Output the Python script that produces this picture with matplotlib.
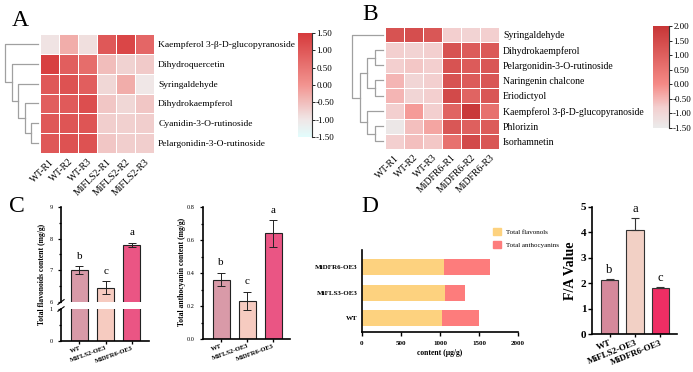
import numpy as np
import matplotlib
matplotlib.use("Agg")
import matplotlib.pyplot as plt
from matplotlib.colors import LinearSegmentedColormap
from matplotlib.patches import Patch

plt.rcParams["font.family"] = ["Liberation Serif", "DejaVu Serif"]

W, H = 693, 372

# ---- data ----
a_rows = ["Kaempferol 3-β-D-glucopyranoside", "Dihydroquercetin", "Syringaldehyde",
          "Dihydrokaempferol", "Cyanidin-3-O-rutinoside", "Pelargonidin-3-O-rutinoside"]
a_cols = ["WT-R1", "WT-R2", "WT-R3", "MiFLS2-R1", "MiFLS2-R2", "MiFLS2-R3"]
a_vals = [[-0.95, -0.3, -0.9, 1.0, 1.3, 0.75],
          [1.4, 0.9, 0.65, -0.5, -0.75, -0.65],
          [1.0, 1.1, 0.9, -0.8, -0.3, -1.0],
          [0.9, 0.95, 1.15, -0.6, -0.8, -0.6],
          [1.0, 1.05, 1.05, -0.7, -0.72, -0.7],
          [1.0, 1.1, 1.1, -0.6, -0.7, -0.7]]
# merges: (node a, node b, distance)
a_merges = [(4, 5, 8), (3, 6, 14), (2, 7, 21), (1, 8, 28), (0, 9, 35)]

b_rows = ["Syringaldehyde", "Dihydrokaempferol", "Pelargonidin-3-O-rutinoside",
          "Naringenin chalcone", "Eriodictyol", "Kaempferol 3-β-D-glucopyranoside",
          "Phlorizin", "Isorhamnetin"]
b_cols = ["WT-R1", "WT-R2", "WT-R3", "MiDFR6-R1", "MiDFR6-R2", "MiDFR6-R3"]
b_vals = [[1.3, 1.4, 1.2, -0.8, -0.9, -0.8],
          [-0.8, -0.9, -0.8, 1.3, 1.1, 1.15],
          [-0.8, -0.7, -0.8, 1.3, 1.1, 1.2],
          [-0.5, -0.95, -0.8, 1.3, 1.1, 1.2],
          [-0.5, -0.95, -0.8, 1.5, 0.9, 1.2],
          [-0.8, -0.2, -0.8, 0.9, 1.9, 0.6],
          [-1.4, -0.6, -0.3, 1.2, 1.0, 1.1],
          [-0.8, -0.6, -0.7, 0.6, 1.5, 1.2]]
b_merges = [(1, 2, 9), (3, 4, 9), (8, 9, 17), (6, 7, 9), (5, 11, 17), (10, 12, 24), (0, 13, 33)]

c_groups = ["WT", "MiFLS2-OE3", "MiDFR6-OE3"]
flav_mean = [7.0, 6.45, 7.8]
flav_err = [0.13, 0.2, 0.07]
flav_letters = ["b", "c", "a"]
antho_mean = [0.36, 0.23, 0.64]
antho_err = [0.04, 0.055, 0.08]
antho_letters = ["b", "c", "a"]
c_colors = ["#d99aa8", "#f6cbc0", "#ea5584"]

d_groups = ["WT", "MiFLS3-OE3", "MiDFR6-OE3"]
d_flavonols = [1020, 1070, 1055]
d_antho = [480, 255, 590]

fa_groups = ["WT", "MiFLS2-OE3", "MiDFR6-OE3"]
fa_mean = [2.12, 4.1, 1.8]
fa_err = [0.06, 0.48, 0.07]
fa_letters = ["b", "a", "c"]
fa_colors = ["#d5899b", "#f2d0c5", "#ee2e64"]


def px(x0, y0, x1, y1):
    return [x0 / W, 1 - y1 / H, (x1 - x0) / W, (y1 - y0) / H]


def heatmap(ax, vals, rows, cols, cmap, vmin, vmax, rowsize=7):
    m = ax.pcolormesh(np.array(vals), cmap=cmap, vmin=vmin, vmax=vmax,
                      edgecolors="white", linewidth=0.6)
    ax.set_xlim(0, len(cols))
    ax.set_ylim(len(rows), 0)
    ax.set_xticks(np.arange(len(cols)) + 0.5)
    ax.set_xticklabels(cols, rotation=45, ha="right", va="top",
                       rotation_mode="anchor", fontsize=7)
    ax.set_yticks(np.arange(len(rows)) + 0.5)
    ax.yaxis.tick_right()
    ax.set_yticklabels(rows, fontsize=rowsize)
    ax.tick_params(length=0, pad=3)
    for s in ax.spines.values():
        s.set_visible(False)
    return m


def dendro(ax, merges, n):
    pos = {i: i + 0.5 for i in range(n)}
    hgt = {i: 0 for i in range(n)}
    for k, (a, b, d) in enumerate(merges):
        ax.plot([hgt[a], d, d, hgt[b]], [pos[a], pos[a], pos[b], pos[b]],
                color="#a0a0a0", lw=0.9, clip_on=False)
        pos[n + k] = (pos[a] + pos[b]) / 2
        hgt[n + k] = d
    ax.set_ylim(n, 0)
    ax.set_xlim(max(m[2] for m in merges), -1)
    ax.axis("off")


def colorbar(fig, m, cax, ticks):
    cb = fig.colorbar(m, cax=cax, ticks=ticks)
    cb.outline.set_visible(False)
    cax.set_yticklabels([f"{t:.2f}" for t in ticks])
    cax.tick_params(labelsize=6.5, length=2, width=0.6, pad=1)
    cax.plot([1, 1], [0, 1], transform=cax.transAxes, color="#333333", lw=0.8, clip_on=False)


def style_bar_ax(ax, lw=1.2):
    for s in ["top", "right"]:
        ax.spines[s].set_visible(False)
    for s in ["left", "bottom"]:
        ax.spines[s].set_linewidth(lw)
    ax.tick_params(width=lw * 0.8, length=2.5, direction="out")


fig = plt.figure(figsize=(W / 100, H / 100), dpi=100)

# ---- A ----
cmap_a = LinearSegmentedColormap.from_list(
    "a", [(0, "#e2fdfd"), (0.17, "#f0e6e6"), (0.5, "#f29490"), (1.0, "#d63a3c")])
ax = fig.add_axes(px(40, 34, 154, 153))
m = heatmap(ax, a_vals, a_rows, a_cols, cmap_a, -1.5, 1.5, rowsize=6.8)
dendro(fig.add_axes(px(5, 34, 39, 153)), a_merges, len(a_rows))
colorbar(fig, m, fig.add_axes(px(298, 33, 312, 137)), [-1.5, -1.0, -0.5, 0, 0.5, 1.0, 1.5])
fig.text(20 / W, 1 - 20 / H, "A", fontsize=17, ha="center", va="center")

# ---- B ----
cmap_b = LinearSegmentedColormap.from_list(
    "b", [(0, "#ebebeb"), (0.2, "#f3cfcf"), (0.43, "#f58a86"), (1.0, "#c73536")])
ax = fig.add_axes(px(385, 27, 499, 149))
m = heatmap(ax, b_vals, b_rows, b_cols, cmap_b, -1.5, 2.0)
dendro(fig.add_axes(px(352, 27, 384, 149)), b_merges, len(b_rows))
colorbar(fig, m, fig.add_axes(px(653, 26, 669, 128)), [-1.5, -1.0, -0.5, 0, 0.5, 1.0, 1.5, 2.0])
fig.text(370 / W, 1 - 15 / H, "B", fontsize=17, ha="center", va="center")

# ---- C: flavonoids (broken axis) ----
x = np.arange(3)
bw = 0.65
ax_up = fig.add_axes(px(61, 207, 149, 302))
ax_lo = fig.add_axes(px(61, 309, 149, 341))
for a in (ax_up, ax_lo):
    a.bar(x, flav_mean, width=bw, color=c_colors, edgecolor="#222222", linewidth=0.8)
    a.set_xlim(-0.7, 2.65)
    style_bar_ax(a)
ax_up.errorbar(x, flav_mean, yerr=flav_err, fmt="none", ecolor="#222222",
               elinewidth=0.7, capsize=3, capthick=0.7)
ax_up.set_ylim(6, 9)
ax_up.set_yticks([6, 7, 8, 9])
ax_up.set_yticks([6.5, 7.5, 8.5], minor=True)
ax_up.spines["bottom"].set_visible(False)
ax_up.tick_params(axis="x", bottom=False, labelbottom=False)
ax_up.tick_params(axis="y", which="both", labelsize=4.5, width=0.9, length=2.5)
ax_up.tick_params(axis="y", which="minor", length=1.5)
for i in x:
    ax_up.annotate(flav_letters[i], (i, flav_mean[i] + flav_err[i]), xytext=(0, 4),
                   textcoords="offset points", ha="center", va="bottom", fontsize=8)
ax_lo.set_ylim(0, 1)
ax_lo.set_yticks([0, 1])
ax_lo.set_yticks([0.5], minor=True)
ax_lo.spines["top"].set_visible(False)
ax_lo.tick_params(axis="y", which="both", labelsize=4.5, width=0.9, length=2.5)
ax_lo.tick_params(axis="y", which="minor", length=1.5)
ax_lo.set_xticks(x)
ax_lo.set_xticklabels(c_groups, rotation=20, ha="right", rotation_mode="anchor",
                      fontsize=4.8, fontweight="bold")
ax_lo.tick_params(axis="x", length=2, pad=1)
ax_up.plot([-0.035, 0.035], [-0.025, 0.025], transform=ax_up.transAxes,
           color="k", lw=0.8, clip_on=False)
ax_lo.plot([-0.035, 0.035], [0.93, 1.07], transform=ax_lo.transAxes,
           color="k", lw=0.8, clip_on=False)
fig.text(42 / W, 1 - 274 / H, "Total flavonoids content (mg/g)", rotation=90,
         fontsize=5.5, fontweight="bold", ha="center", va="center")
fig.text(17 / W, 1 - 207 / H, "C", fontsize=17, ha="center", va="center")

# ---- C: anthocyanins ----
ax = fig.add_axes(px(203, 207, 290, 339))
ax.bar(x, antho_mean, width=bw, color=c_colors, edgecolor="#222222", linewidth=0.8)
ax.errorbar(x, antho_mean, yerr=antho_err, fmt="none", ecolor="#222222",
            elinewidth=0.7, capsize=3, capthick=0.7)
ax.set_xlim(-0.7, 2.65)
ax.set_ylim(0, 0.8)
ax.set_yticks([0, 0.2, 0.4, 0.6, 0.8])
ax.set_yticks([0.1, 0.3, 0.5, 0.7], minor=True)
ax.set_yticklabels([f"{v:.1f}" for v in [0, 0.2, 0.4, 0.6, 0.8]])
style_bar_ax(ax)
ax.tick_params(axis="y", which="both", labelsize=4.5, width=0.9)
ax.tick_params(axis="y", which="minor", length=1.5)
ax.set_xticks(x)
ax.set_xticklabels(c_groups, rotation=20, ha="right", rotation_mode="anchor",
                   fontsize=4.8, fontweight="bold")
ax.tick_params(axis="x", length=2, pad=1)
for i in x:
    ax.annotate(antho_letters[i], (i, antho_mean[i] + antho_err[i]), xytext=(0, 4),
                textcoords="offset points", ha="center", va="bottom", fontsize=8)
fig.text(182 / W, 1 - 272 / H, "Total anthocyanin content (mg/g)", rotation=90,
         fontsize=5.5, fontweight="bold", ha="center", va="center")

# ---- D: stacked bars ----
ax = fig.add_axes(px(362, 250, 518, 332))
ax.barh(x, d_flavonols, height=0.63, color="#fdd27f", label="Total flavonols")
ax.barh(x, d_antho, left=d_flavonols, height=0.63, color="#fd7c7c", label="Total anthocyanins")
ax.set_xlim(0, 2000)
ax.set_ylim(-0.55, 2.69)
ax.set_xticks([0, 500, 1000, 1500, 2000])
ax.set_yticks(x)
ax.set_yticklabels(d_groups, fontsize=5, fontweight="bold")
style_bar_ax(ax)
ax.tick_params(axis="x", labelsize=5, width=1, length=3)
for lab in ax.get_xticklabels():
    lab.set_fontweight("bold")
ax.tick_params(axis="y", length=0, pad=3)
ax.set_xlabel("content (μg/g)", fontsize=5.5, fontweight="bold", labelpad=2)
fig.legend(handles=[Patch(color="#fdd27f"), Patch(color="#fd7c7c")],
           labels=["Total flavonols", "Total anthocyanins"],
           loc="upper left", bbox_to_anchor=(490 / W, 1 - 225 / H), frameon=False,
           fontsize=5, handlelength=1.1, handleheight=1.1, labelspacing=0.9,
           handletextpad=0.7, borderpad=0)
fig.text(370 / W, 1 - 207 / H, "D", fontsize=17, ha="center", va="center")

# ---- F/A value ----
ax = fig.add_axes(px(592, 207, 677, 334))
ax.bar(x, fa_mean, width=0.67, color=fa_colors, edgecolor="#333333", linewidth=0.8)
ax.errorbar(x, fa_mean, yerr=[[0, 0, 0], fa_err], fmt="none", ecolor="#333333",
            elinewidth=0.8, capsize=3, capthick=0.8)
ax.set_xlim(-0.69, 2.65)
ax.set_ylim(0, 5)
ax.set_yticks([0, 1, 2, 3, 4, 5])
style_bar_ax(ax)
ax.tick_params(axis="y", labelsize=8, width=1, length=3, pad=1)
for lab in ax.get_yticklabels():
    lab.set_fontweight("bold")
ax.set_xticks(x)
ax.set_xticklabels(fa_groups, rotation=22, ha="right", rotation_mode="anchor",
                   fontsize=6.5, fontweight="bold")
ax.tick_params(axis="x", length=2.5, pad=1)
ax.set_ylabel("F/A Value", fontsize=10, fontweight="bold", labelpad=3)
for i in x:
    ax.annotate(fa_letters[i], (i, fa_mean[i] + fa_err[i]), xytext=(0, 2),
                textcoords="offset points", ha="center", va="bottom", fontsize=9)

fig.savefig("out.png", dpi=100)
